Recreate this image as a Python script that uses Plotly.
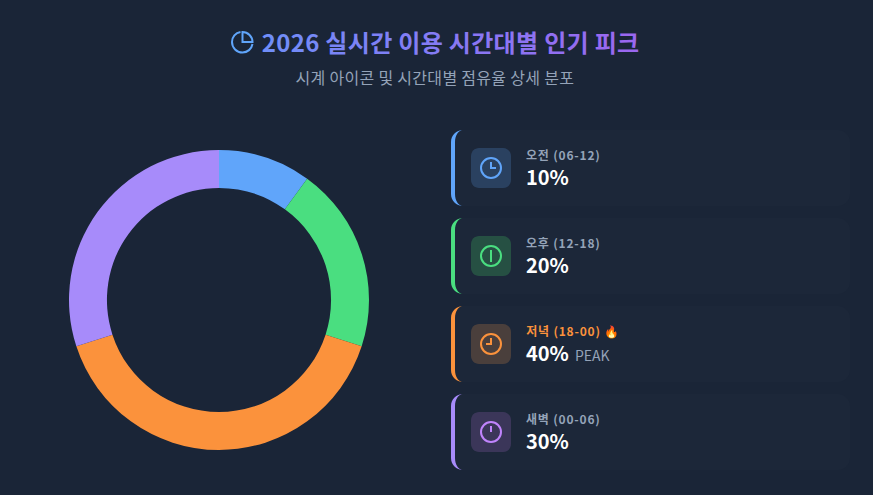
import plotly.graph_objects as go

periods = ["오전 (06-12)", "오후 (12-18)", "저녁 (18-00) 🔥", "새벽 (00-06)"]
shares = [10, 20, 40, 30]
value_labels = ["10%", "20%", "40%", "30%"]
colors = ["#60a5fa", "#4ade80", "#fb923c", "#a78bfa"]
icon_fills = ["#2a4160", "#265043", "#4a3f3c", "#3b3659"]
icon_stroke = ["#60a5fa", "#4ade80", "#fb923c", "#c084fc"]
card_tops = [130, 218, 306, 394]
title_text = "2026 실시간 이용 시간대별 인기 피크"
subtitle_text = "시계 아이콘 및 시간대별 점유율 상세 분포"
KR = "'Noto Sans CJK KR', 'Noto Sans', sans-serif"
BG = "#1a2537"
CARD = "#1c2739"

def mix(a, b, t):
    return tuple(round(a[i] + (b[i] - a[i]) * t) for i in range(3))

chars = []
for i, ch in enumerate(title_text):
    c = mix((112, 142, 248), (154, 104, 240), i / (len(title_text) - 1))
    chars.append(f'<span style="color:rgb({c[0]},{c[1]},{c[2]})">{ch}</span>')
title_html = "".join(chars)

shapes, ann = [], []

def note(x, y, text, size, color, bold=False, anchor="left"):
    ann.append(dict(x=x, y=y, xref="x", yref="y", text=f"<b>{text}</b>" if bold else text,
                    showarrow=False, xanchor=anchor, yanchor="middle",
                    font=dict(family=KR, size=size, color=color)))

def rrect(x0, y0, x1, y1, r):
    k = r * 0.448
    return (f"M{x0+r},{y0} L{x1-r},{y0} C{x1-k},{y0} {x1},{y0+k} {x1},{y0+r} "
            f"L{x1},{y1-r} C{x1},{y1-k} {x1-k},{y1} {x1-r},{y1} "
            f"L{x0+r},{y1} C{x0+k},{y1} {x0},{y1-k} {x0},{y1-r} "
            f"L{x0},{y0+r} C{x0},{y0+k} {x0+k},{y0} {x0+r},{y0} Z")

def circle(cx, cy, r, color, w=2):
    shapes.append(dict(type="circle", xref="x", yref="y", x0=cx-r, x1=cx+r, y0=cy-r, y1=cy+r,
                       line=dict(color=color, width=w), fillcolor="rgba(0,0,0,0)"))

def stroke(path, color, w=2):
    shapes.append(dict(type="path", xref="x", yref="y", path=path,
                       line=dict(color=color, width=w), fillcolor="rgba(0,0,0,0)"))

# Header icon
stroke("M240.5,32 C235.5,32.8 232,37 232,42 C232,47.8 236.7,52.5 242.5,52.5 C247.5,52.5 251.6,49 252.5,44", "#60a5fa", 2)
stroke("M242.5,32 C248,32 252.5,36.5 252.5,42 L242.5,42 Z", "#60a5fa", 2)
note(450, 41, title_html, 24, "#818cf8", bold=True, anchor="center")
note(434.5, 77, subtitle_text, 16, "#94a3b8", anchor="center")

hands = [
    lambda cx, cy: f"M{cx},{cy-6} L{cx},{cy} L{cx+5},{cy}",
    lambda cx, cy: f"M{cx},{cy-6} L{cx},{cy+6}",
    lambda cx, cy: f"M{cx},{cy-6} L{cx},{cy} L{cx-5},{cy}",
    lambda cx, cy: f"M{cx},{cy-6} L{cx},{cy}",
]

for i, top in enumerate(card_tops):
    bot = top + 76
    shapes.append(dict(type="path", xref="x", yref="y", path=rrect(451, top, 850, bot, 12),
                       fillcolor=CARD, line=dict(width=0)))
    crescent = (f"M463,{top} C456.4,{top} 451,{top+5.4} 451,{top+12} L451,{bot-12} "
                f"C451,{bot-5.4} 456.4,{bot} 463,{bot} "
                f"C458.6,{bot} 455,{bot-5.4} 455,{bot-12} L455,{top+12} "
                f"C455,{top+5.4} 458.6,{top} 463,{top} Z")
    shapes.append(dict(type="path", xref="x", yref="y", path=crescent,
                       fillcolor=colors[i], line=dict(width=0)))
    shapes.append(dict(type="path", xref="x", yref="y", path=rrect(471, top+18, 511, top+58, 8),
                       fillcolor=icon_fills[i], line=dict(width=0)))
    cx, cy = 491, top + 38
    circle(cx, cy, 10, icon_stroke[i])
    stroke(hands[i](cx, cy), icon_stroke[i])
    note(529 if i == 2 else 528, top + 24, periods[i], 12, "#fb923c" if i == 2 else "#94a3b8", bold=True)
    note(524, top + 46, value_labels[i], 20, "#ffffff", bold=True)
    if i == 2:
        note(573, top + 48.5, "PEAK", 14, "#94a3b8")

fig = go.Figure(go.Pie(
    values=shares, labels=periods, hole=0.747, sort=False, direction="clockwise", rotation=0,
    marker=dict(colors=colors, line=dict(width=0)), textinfo="none", showlegend=False,
    domain=dict(x=[69/873, 369/873], y=[45/495, 345/495]), hoverinfo="label+percent"))

fig.update_layout(
    width=873, height=495, margin=dict(l=0, r=0, t=0, b=0),
    paper_bgcolor=BG, plot_bgcolor="rgba(0,0,0,0)", showlegend=False,
    xaxis=dict(range=[0, 873], visible=False, fixedrange=True, domain=[0, 1]),
    yaxis=dict(range=[495, 0], visible=False, fixedrange=True, domain=[0, 1]),
    shapes=shapes, annotations=ann)
fig.add_trace(go.Scatter(x=[], y=[], showlegend=False))
post = """
document.body.style.margin='0';document.body.style.background='%s';
var sp={'12px':'0.8px','16px':'0.3px','24px':'0.3px'};
document.querySelectorAll('.annotation-text').forEach(function(t){
  var s=sp[t.style.fontSize]; if(s){t.style.letterSpacing=s;}
});
""" % BG
fig.write_html("out.html", config={"displayModeBar": False}, post_script=post)
